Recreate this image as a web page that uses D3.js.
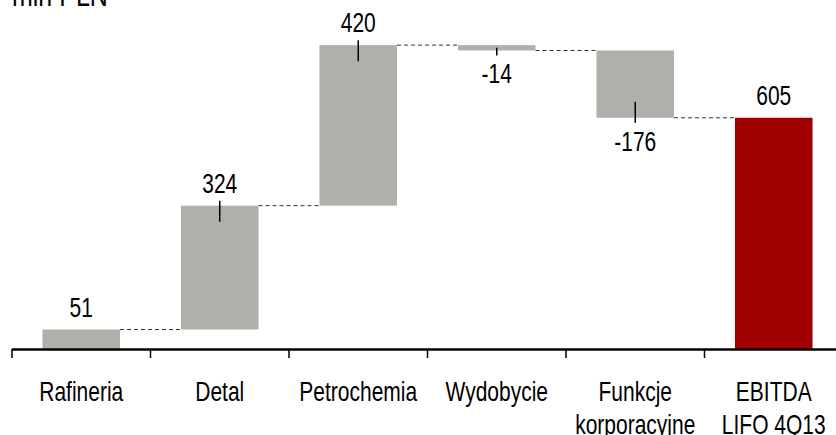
<!DOCTYPE html>
<html>
<head>
<meta charset="utf-8">
<script src="https://cdn.jsdelivr.net/npm/d3@7"></script>
<style>
  body { margin: 0; background: #fff; }
  text { font-family: "Liberation Sans", Arial, sans-serif; fill: #000; }
</style>
</head>
<body>
<svg width="836" height="435"></svg>
<script>
'use strict';
// ..........data..........
const categories = ['Rafineria', 'Detal', 'Petrochemia', 'Wydobycie', 'Funkcje\nkorporacyjne', 'EBITDA\nLIFO 4Q13'];
const values = [51, 324, 420, -14, -176, 605];
const isTotal = [false, false, false, false, false, true];
const withLeader = [false, true, true, true, true, false];
const unitLabel = 'mln PLN';

const svg = d3.select('svg');
const axisY = 349;
const textStretch = 1.32;

const x = d3.scaleBand()
    .domain(categories)
    .range([12, 843])
    .paddingInner(0.44)
    .paddingOuter(0.22);

const y = d3.scaleLinear()
    .domain([0, 900])
    .range([axisY, 5]);

// running totals for waterfall
let run = 0;
const steps = categories.map((c, i) => {
  let start, end;
  if (isTotal[i]) { start = 0; end = values[i]; }
  else { start = run; end = run + values[i]; }
  run = end;
  return { c, v: values[i], start, end, total: isTotal[i], leader: withLeader[i] };
});

// ..........connectors..........
svg.append('g').selectAll('line')
  .data(steps.slice(0, -1))
  .join('line')
    .attr('x1', d => x(d.c) + x.bandwidth())
    .attr('x2', (d, i) => x(steps[i + 1].c))
    .attr('y1', d => y(d.end))
    .attr('y2', d => y(d.end))
    .attr('stroke', '#333')
    .attr('stroke-width', 1)
    .attr('stroke-dasharray', '4,3');

// ..........bars..........
svg.append('g').selectAll('rect')
  .data(steps)
  .join('rect')
    .attr('x', d => x(d.c))
    .attr('width', x.bandwidth())
    .attr('y', d => y(Math.max(d.start, d.end)))
    .attr('height', d => Math.abs(y(d.start) - y(d.end)))
    .attr('fill', d => d.total ? '#a00000' : '#b0b0aa');

// ..........leader lines..........
svg.append('g').selectAll('line')
  .data(steps.filter(d => d.leader))
  .join('line')
    .attr('x1', d => x(d.c) + x.bandwidth() / 2)
    .attr('x2', d => x(d.c) + x.bandwidth() / 2)
    .attr('y1', d => {
      const h = Math.abs(y(d.start) - y(d.end));
      const inside = Math.min(16, h / 2);
      return d.v >= 0 ? y(d.end) + inside : y(d.end) - inside;
    })
    .attr('y2', d => d.v >= 0 ? y(d.end) - 5 : y(d.end) + 5)
    .attr('stroke', '#000')
    .attr('stroke-width', 1.5);

// ..........value labels..........
svg.append('g').selectAll('text')
  .data(steps)
  .join('text')
    .attr('transform', d => {
      const cx = x(d.c) + x.bandwidth() / 2;
      const cy = d.v >= 0 ? y(d.end) - 13 : y(d.end) + 33;
      return `translate(${cx} ${cy}) scale(1 ${textStretch})`;
    })
    .attr('text-anchor', 'middle')
    .style('font-size', '21px')
    .text(d => d.v);

// ..........axis..........
const axis = svg.append('g');
axis.append('line')
    .attr('x1', 12).attr('x2', 836)
    .attr('y1', axisY + 0.5).attr('y2', axisY + 0.5)
    .attr('stroke', '#000').attr('stroke-width', 2.5);
const tickPos = categories.map(c => x(c) - x.step() * x.paddingInner() / 2 - (categories.indexOf(c) === 0 ? x.step() * (x.paddingOuter() - x.paddingInner() / 2) : 0));
axis.selectAll('.tick')
  .data(tickPos)
  .join('line')
    .attr('class', 'tick')
    .attr('x1', d => d).attr('x2', d => d)
    .attr('y1', axisY).attr('y2', axisY + 9)
    .attr('stroke', '#000').attr('stroke-width', 1.5);

const catText = axis.selectAll('.cat')
  .data(categories)
  .join('text')
    .attr('class', 'cat')
    .attr('transform', d => `translate(${x(d) + x.bandwidth() / 2} 401) scale(1 ${textStretch})`)
    .attr('text-anchor', 'middle')
    .style('font-size', '21px');
catText.selectAll('tspan')
  .data(d => d.split('\n'))
  .join('tspan')
    .attr('x', 0)
    .attr('dy', (d, i) => i === 0 ? 0 : 33 / textStretch)
    .text(d => d);

// ..........unit..........
svg.append('text')
    .attr('transform', `translate(12 6) scale(1 ${textStretch})`)
    .style('font-size', '25px')
    .text(unitLabel);
</script>
</body>
</html>
